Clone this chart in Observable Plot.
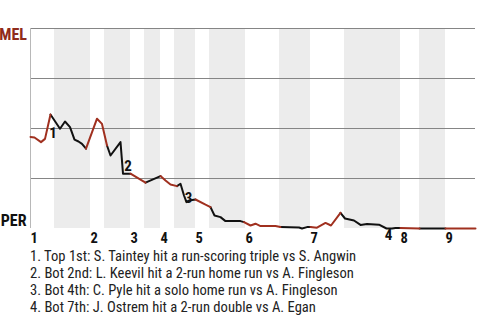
<!DOCTYPE html>
<html><head><meta charset="utf-8">
<script src="https://cdn.jsdelivr.net/npm/d3@7"></script>
<script src="https://cdn.jsdelivr.net/npm/@observablehq/plot@0.6"></script>
<style>
body{margin:0;background:#fff;}
#chart svg{display:block;}
#cap{font-family:'Roboto Condensed','Liberation Sans Narrow','Arial Narrow',Roboto,sans-serif;font-size:14.6px;line-height:17.3px;color:#222;padding-left:30px;padding-top:1.5px;white-space:nowrap;}
</style></head><body>
<div id="chart"></div>
<div id="cap"></div>
<script>
const FONT = "'Roboto Condensed','Liberation Sans Narrow','Arial Narrow',Roboto,sans-serif";
const RED = "#a0301f";
const teams = ["MEL", "PER"];
const inningLabels = ["1","2","3","4","5","6","7","8","9"];
const inningStart = [0, 12, 20, 26, 33, 43, 56, 74, 83];
const bottomStart = [4.8, 14.8, 22.8, 28.8, 35.8, 49.8, 62.8, 77.8];
const gameEnd = 89;

// plate appearance index, MEL win probability (%), team batting
const pa  = [0,0.8,2.1,2.9,4, 5.9,6.9,7.9,8.8,9.6,10.3,11.1, 13.3,14.3,15.3, 16,18,18.5,20, 23, 26, 27,28,29.3, 30,30.7,31.2,31.7,33, 35,36, 36.8,38,39,42,42.7, 44,45,46,49,50, 53.7,54.3,55.3,56, 57.3,59,60.1,62, 62.9,64.7,66,67.3,69.7,71.2,72.3,73,74, 77.8, 83, 89];
const wp  = [45.8,45.5,43.2,44.8,57, 49.9,53.5,50.7,44.4,43.5,42.3,39.9, 54.9,52.3,41.5, 36.5,43.2,27.4,27.4, 22.9, 26.2, 24,22,21.2, 22.4,16.5,13.2,14,14.5, 11.9,10.7, 6.5,5.7,3.7,3.7,3.2, 1.5,2.4,1.2,1.2,0.7, 0.5,0,0.7,0.8, 0.4,2.8,1.5,7.8, 5,4,1.8,2.2,1.9,0,0,0.3,0.2, 0, 0, 0];
const bat = ["M","M","M","M","M", "P","P","P","P","P","P","P", "M","M","M", "P","P","P","P", "M", "P", "M","M","M", "P","P","P","P","P", "M","M", "P","P","P","P","P", "M","M","M","M","M", "P","P","P","P", "M","M","M","M", "P","P","P","P","P","P","P","P","P", "M", "P", "M"];

const eventNum = ["1","2","3","4"];
const eventPa = [4, 18.5, 31.2, 71.2];
const eventWp = [57, 27.4, 13.2, 0];
const eventText = [
  "1. Top 1st: S. Taintey hit a run-scoring triple vs S. Angwin",
  "2. Bot 2nd: L. Keevil hit a 2-run home run vs A. Fingleson",
  "3. Bot 4th: C. Pyle hit a solo home run vs A. Fingleson",
  "4. Bot 7th: J. Ostrem hit a 2-run double vs A. Egan"
];

const pts = pa.map((p, i) => ({pa: p, wp: wp[i], bat: bat[i]}));
const segs = []; let cur = null;
for (let i = 1; i < pts.length; i++) {
  const b = pts[i].bat;
  if (!cur || cur.bat !== b) { cur = {bat: b, pts: [pts[i - 1]]}; segs.push(cur); }
  cur.pts.push(pts[i]);
}
const lineData = segs.flatMap((s, k) => s.pts.map(p => ({pa: p.pa, wp: p.wp, seg: k, bat: s.bat})));

const bands = bottomStart.map((b, i) => ({x1: b, x2: inningStart[i + 1]}));
const innings = inningLabels.map((l, i) => ({label: l, x: inningStart[i]}));
const events = eventNum.map((n, i) => ({n, pa: eventPa[i], wp: eventWp[i]}));
const offs = [[2.5, 19], [5, -8], [2, -4], [2, 7]];

const chart = Plot.plot({
  width: 480, height: 246,
  marginTop: 28, marginBottom: 18, marginLeft: 30, marginRight: 5,
  x: {domain: [0, gameEnd], axis: null},
  y: {domain: [0, 100], axis: null},
  style: {fontFamily: FONT, background: "white", overflow: "visible"},
  marks: [
    Plot.rectX(bands, {x1: "x1", x2: "x2", y1: 0, y2: 100, fill: "#ececec"}),
    Plot.ruleY([25, 50, 75, 100], {stroke: "#858585", strokeWidth: 1}),
    Plot.ruleX([0], {y1: 0, y2: 100, stroke: "#b8b8b8"}),
    Plot.line(lineData.filter(d => d.bat === "P"), {x: "pa", y: "wp", z: "seg", stroke: "#111", strokeWidth: 2}),
    Plot.line(lineData.filter(d => d.bat === "M"), {x: "pa", y: "wp", z: "seg", stroke: RED, strokeWidth: 2}),
    Plot.text(innings, {x: "x", y: 0, text: "label", textAnchor: "start", dy: 9.5, fontSize: 14.5, fontWeight: "bold", fill: "#111"}),
    ...events.map((e, i) => Plot.text([e], {x: "pa", y: "wp", text: "n", dx: offs[i][0], dy: offs[i][1], fontSize: 15, fontWeight: "bold", fill: "#111"})),
    Plot.text([teams[0]], {x: 0, y: 100, text: d => d, textAnchor: "end", dx: -3.5, dy: 6, fontSize: 16, fontWeight: "bold", fill: "#8f2b1b"}),
    Plot.text([teams[1]], {x: 0, y: 0, text: d => d, textAnchor: "end", dx: -4, dy: -7.5, fontSize: 16, fontWeight: "bold", fill: "#111"})
  ]
});
document.getElementById("chart").appendChild(chart);
const cap = document.getElementById("cap");
eventText.forEach(t => { const d = document.createElement("div"); d.textContent = t; cap.appendChild(d); });
</script></body></html>
